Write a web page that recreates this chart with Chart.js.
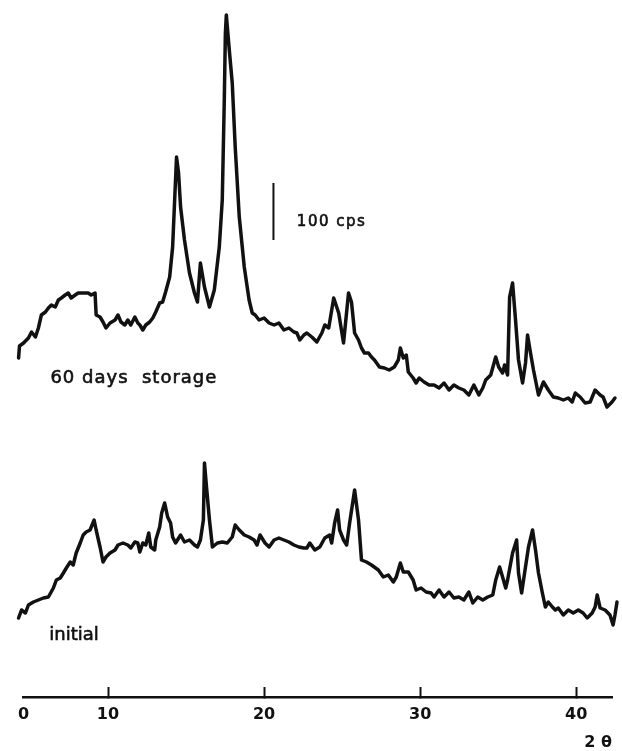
<!DOCTYPE html>
<html>
<head>
<meta charset="utf-8">
<script src="https://cdn.jsdelivr.net/npm/chart.js@4"></script>
<style>
  html, body { margin: 0; padding: 0; background: #fff; }
  canvas { display: block; }
</style>
</head>
<body>
<canvas id="c" width="622" height="751"></canvas>
<script>
// ---- data (2θ in degrees, intensity in chart units; 57 units = 100 cps) ----
const storageTwoTheta = [4.27,4.33,4.59,4.90,5.10,5.35,5.54,5.73,5.99,6.18,
  6.37,6.62,6.82,7.01,7.26,7.45,7.64,7.90,8.09,8.41,
  8.73,8.92,9.17,9.24,9.49,9.68,9.87,10.13,10.45,10.64,
  10.83,11.08,11.27,11.46,11.72,11.91,12.04,12.23,12.42,12.67,
  12.87,13.06,13.31,13.50,13.69,13.95,14.14,14.27,14.39,14.52,
  14.65,14.90,15.22,15.54,15.73,15.92,16.18,16.50,16.81,17.13,
  17.32,17.45,17.52,17.58,17.77,17.96,18.15,18.41,18.73,19.04,
  19.24,19.43,19.68,20.00,20.32,20.64,20.95,21.27,21.59,21.91,
  22.10,22.29,22.55,22.74,23.06,23.38,23.70,23.89,24.14,24.46,
  24.78,25.09,25.41,25.60,25.80,26.05,26.24,26.43,26.69,26.88,
  27.07,27.39,27.71,28.02,28.34,28.60,28.73,28.92,29.11,29.24,
  29.55,29.74,29.94,30.25,30.57,30.89,31.21,31.53,31.85,32.16,
  32.48,32.80,33.12,33.44,33.76,34.01,34.20,34.52,34.84,35.03,
  35.28,35.41,35.60,35.73,35.92,36.11,36.30,36.56,36.75,36.88,
  37.07,37.26,37.58,37.90,38.21,38.53,38.85,39.17,39.49,39.74,
  39.94,40.25,40.57,40.89,41.21,41.53,41.72,41.97,42.29,42.48];
const storageIntensity = [52,64,67,72,78,73,82,95,98,102,
  105,103,110,112,115,117,112,115,117,117,
  117,115,117,95,93,88,82,87,90,95,
  88,85,90,85,93,87,85,80,85,88,
  92,98,107,108,118,133,163,210,253,237,
  203,170,137,117,108,147,123,103,120,163,
  210,310,377,395,360,327,263,193,143,110,
  97,95,90,92,87,85,87,80,82,78,
  77,70,75,77,73,68,77,85,82,112,
  97,67,117,108,77,70,62,57,57,53,
  50,43,42,40,43,50,62,52,55,38,
  32,27,32,28,25,25,22,27,20,25,
  22,20,15,25,15,22,30,35,53,43,
  37,45,35,113,127,90,50,27,47,75,
  57,40,15,28,20,13,12,10,12,8,
  17,13,7,8,20,15,13,3,8,12];

const initialTwoTheta = [4.27,4.46,4.71,4.90,5.22,5.54,5.86,6.18,6.50,6.69,
  6.94,7.14,7.33,7.58,7.77,7.96,8.22,8.41,8.60,8.85,
  9.11,9.24,9.49,9.68,9.87,10.13,10.45,10.64,10.96,11.27,
  11.46,11.72,11.91,12.04,12.23,12.42,12.61,12.74,12.99,13.06,
  13.31,13.44,13.63,13.82,14.01,14.14,14.33,14.65,14.90,15.22,
  15.54,15.73,15.92,16.11,16.18,16.31,16.50,16.69,17.01,17.32,
  17.64,17.96,18.15,18.41,18.73,19.04,19.36,19.55,19.74,20.06,
  20.32,20.64,20.95,21.27,21.59,21.91,22.23,22.55,22.74,22.93,
  23.25,23.57,23.89,24.20,24.33,24.52,24.71,24.84,25.09,25.29,
  25.48,25.80,26.05,26.24,26.56,26.88,27.32,27.64,27.96,28.28,
  28.47,28.73,28.92,29.24,29.55,29.74,30.06,30.38,30.70,30.89,
  31.21,31.53,31.85,32.16,32.48,32.80,33.12,33.37,33.69,34.01,
  34.33,34.65,34.84,35.09,35.28,35.48,35.60,35.92,36.18,36.30,
  36.50,36.69,36.94,37.20,37.39,37.58,37.83,38.02,38.21,38.47,
  38.66,38.85,39.17,39.49,39.81,40.13,40.44,40.70,41.02,41.21,
  41.34,41.53,41.85,42.16,42.36,42.48,42.61];
const initialIntensity = [9,17,14,22,25,27,29,30,39,47,
  49,54,59,65,62,74,84,92,95,97,
  107,97,80,65,70,74,77,82,84,82,
  79,85,84,75,84,82,94,80,77,87,
  100,114,124,110,104,90,84,92,85,87,
  82,80,87,107,164,140,107,80,84,85,
  84,90,102,97,92,90,87,82,92,84,
  80,87,89,87,85,82,80,79,79,84,
  77,80,89,92,84,104,117,97,87,82,
  104,137,107,67,65,62,57,50,52,45,
  50,64,55,55,47,37,39,35,34,30,
  37,30,35,29,30,27,35,24,30,27,
  30,32,47,60,50,39,47,74,87,54,
  34,54,80,97,77,54,34,20,25,20,
  17,19,12,17,14,17,14,9,14,20,
  32,19,17,12,2,12,25];

// tick labels of the 2θ axis (first label sits at the axis start)
const tickValues = [10, 20, 30, 40];
const tickLabels = ['0', '10', '20', '30', '40'];
const axisTitle = '2 θ';

// scale bar
const scaleBarCps = 100;
const scaleBarLabel = '100 cps';
const unitsPer100Cps = 57;

// ---- layout ----
const X_MIN = 4.59, X_MAX = 42.29;
const Y_MIN = 0, Y_MAX = 697;
const STORAGE_OFFSET = 287;
const INITIAL_OFFSET = 70;
const SCALE_BAR_X = 20.6, SCALE_BAR_BASE = 457;

const toPoints = (xs, ys, off) => xs.map((x, i) => ({ x, y: ys[i] + off }));

const annotations = [
  { text: '60 days  storage', x: 6.31, y: 319, font: '18px "DejaVu Sans"', spacing: '1px' },
  { text: 'initial', x: 6.24, y: 62, font: '18px "DejaVu Sans"', spacing: '0px' },
  { text: scaleBarLabel, x: 22.10, y: 475, font: '15px "DejaVu Sans"', spacing: '1.5px' }
];

const textPlugin = {
  id: 'texts',
  afterDatasetsDraw(chart) {
    const { ctx, scales: { x, y } } = chart;
    ctx.save();
    ctx.fillStyle = '#111';
    ctx.strokeStyle = '#111';
    ctx.lineWidth = 0.6;
    ctx.textAlign = 'left';
    ctx.textBaseline = 'middle';
    annotations.forEach(a => {
      ctx.font = a.font;
      ctx.letterSpacing = a.spacing;
      const px = x.getPixelForValue(a.x), py = y.getPixelForValue(a.y);
      ctx.fillText(a.text, px, py);
      ctx.strokeText(a.text, px, py);
    });
    ctx.restore();
  }
};

const lineStyle = {
  borderColor: '#111',
  borderWidth: 3.5,
  pointRadius: 0,
  tension: 0,
  fill: false,
  clip: false,
  borderJoinStyle: 'round',
  borderCapStyle: 'round'
};

new Chart(document.getElementById('c'), {
  type: 'line',
  data: {
    datasets: [
      Object.assign({ label: '60 days storage', data: toPoints(storageTwoTheta, storageIntensity, STORAGE_OFFSET) }, lineStyle),
      Object.assign({ label: 'initial', data: toPoints(initialTwoTheta, initialIntensity, INITIAL_OFFSET) }, lineStyle),
      Object.assign({}, lineStyle, {
        label: scaleBarLabel,
        borderWidth: 2,
        borderCapStyle: 'butt',
        data: [{ x: SCALE_BAR_X, y: SCALE_BAR_BASE }, { x: SCALE_BAR_X, y: SCALE_BAR_BASE + unitsPer100Cps * scaleBarCps / 100 }]
      })
    ]
  },
  options: {
    responsive: false,
    animation: false,
    devicePixelRatio: 1,
    layout: { padding: { left: 20, right: 10, top: 0, bottom: 0 } },
    plugins: { legend: { display: false }, tooltip: { enabled: false } },
    scales: {
      x: {
        type: 'linear',
        bounds: 'data',
        afterDataLimits: s => { s.min = X_MIN; s.max = X_MAX; },
        afterBuildTicks: s => { s.ticks = [X_MIN].concat(tickValues).map(v => ({ value: v })); },
        afterFit: s => { s.height = 54; },
        border: { display: true, color: '#111', width: 2.5 },
        grid: {
          drawOnChartArea: false,
          drawTicks: true,
          tickLength: -10,
          tickWidth: 2,
          tickColor: c => (c.tick && c.tick.value === X_MIN) ? 'rgba(0,0,0,0)' : '#111'
        },
        ticks: {
          autoSkip: false,
          maxRotation: 0,
          padding: 18,
          color: '#111',
          font: { family: 'DejaVu Sans', size: 16, weight: 'bold' },
          callback: (v, i) => tickLabels[i]
        },
        title: {
          display: true,
          text: axisTitle,
          align: 'end',
          color: '#111',
          padding: 0,
          font: { family: 'DejaVu Sans', size: 16, weight: 'bold', lineHeight: 1 }
        }
      },
      y: {
        type: 'linear',
        display: false,
        min: Y_MIN,
        max: Y_MAX
      }
    }
  },
  plugins: [textPlugin]
});
</script>
</body>
</html>
